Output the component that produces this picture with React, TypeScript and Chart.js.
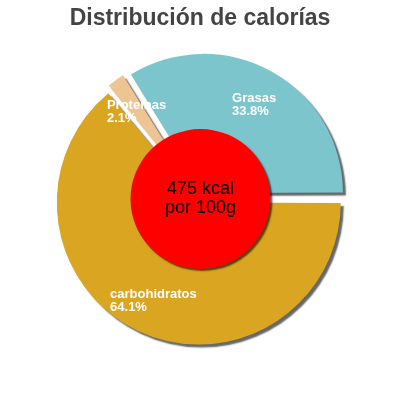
import { useEffect, useRef } from 'react'
import { Chart, registerables } from 'chart.js'

Chart.register(...registerables)

const title = 'Distribución de calorías'
const labels = ['Proteínas', 'Grasas', 'carbohidratos']
const percents = [2.1, 33.8, 64.1]
const centerLines = ['475 kcal', 'por 100g']

const colors = ['#eec592', '#7cc5cd', '#daa520']
// chart.js moves each slice by offset/4 * (2 - sin(circumference)), so these give ~8px each
const offsets = [17, 28, 16]

const FONT = '"Liberation Sans", Arial, sans-serif'

function setShadow(ctx: CanvasRenderingContext2D, dpr: number, dist: number) {
  ctx.shadowColor = 'rgba(0,0,0,0.6)'
  ctx.shadowBlur = 1.5 * dpr
  ctx.shadowOffsetX = dist * dpr
  ctx.shadowOffsetY = dist * dpr
}

const decor = {
  id: 'decor',
  beforeDatasetsDraw(chart: any) {
    chart.ctx.save()
    setShadow(chart.ctx, chart.currentDevicePixelRatio, 3)
  },
  afterDatasetsDraw(chart: any) {
    chart.ctx.restore()
  },
  afterDraw(chart: any) {
    const ctx: CanvasRenderingContext2D = chart.ctx
    const arcs = chart.getDatasetMeta(0).data as any[]
    const { x, y, outerRadius } = arcs[0]

    // red disc in the middle
    ctx.save()
    setShadow(ctx, chart.currentDevicePixelRatio, 2)
    ctx.fillStyle = '#ff0000'
    ctx.beginPath()
    ctx.arc(x, y, outerRadius * 0.507, 0, Math.PI * 2)
    ctx.fill()
    ctx.restore()

    ctx.save()
    ctx.fillStyle = '#000'
    ctx.font = '18px ' + FONT
    ctx.textAlign = 'center'
    ctx.textBaseline = 'middle'
    ctx.fillText(centerLines[0], x, y - 9.5)
    ctx.fillText(centerLines[1], x, y + 9.5)

    // slice labels
    ctx.font = 'bold 13px ' + FONT
    ctx.fillStyle = '#fff'
    ctx.textAlign = 'left'
    arcs.forEach((arc, i) => {
      const mid = (arc.startAngle + arc.endAngle) / 2
      const shift = offsets[i] / 4 * (2 - Math.sin(Math.min(Math.PI, arc.circumference)))
      const r = shift + arc.outerRadius * 0.74
      const cx = x + Math.cos(mid) * r
      const cy = y + Math.sin(mid) * r + 2
      const lines = [labels[i], percents[i].toFixed(1) + '%']
      const w = Math.max(...lines.map(l => ctx.measureText(l).width))
      ctx.fillText(lines[0], cx - w / 2, cy - 6)
      ctx.fillText(lines[1], cx - w / 2, cy + 7)
    })

    // title
    ctx.font = 'bold 23px ' + FONT
    ctx.fillStyle = '#444'
    ctx.textAlign = 'center'
    ctx.textBaseline = 'alphabetic'
    ctx.fillText(title, chart.width / 2, 25)
    ctx.restore()
  },
}

function App() {
  const ref = useRef<HTMLCanvasElement>(null)

  useEffect(() => {
    if (!ref.current) return
    const chart = new Chart(ref.current, {
      type: 'pie',
      data: {
        labels,
        datasets: [{
          data: percents,
          backgroundColor: colors,
          borderWidth: 0,
          offset: offsets,
          hoverOffset: 0,
        }],
      },
      options: {
        animation: false,
        responsive: false,
        events: [],
        rotation: -39.3,
        layout: { padding: { left: 48.5, top: 47, right: 47.5, bottom: 49 } },
        plugins: {
          legend: { display: false },
          tooltip: { enabled: false },
        },
      },
      plugins: [decor],
    })
    return () => chart.destroy()
  }, [])

  return (
    <div style={{ position: 'fixed', left: 0, top: 0, width: 400, height: 400, background: '#fff' }}>
      <canvas ref={ref} width={400} height={400}></canvas>
    </div>
  )
}

export default App
